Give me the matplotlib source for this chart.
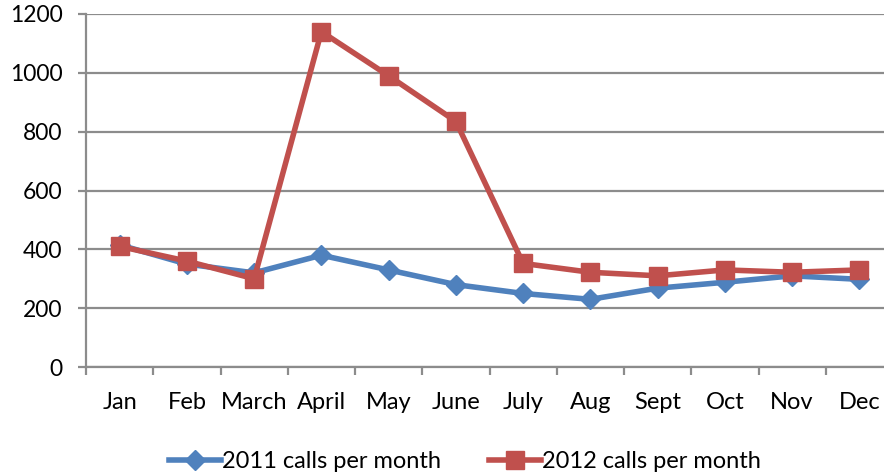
import matplotlib
matplotlib.use("Agg")
import matplotlib.pyplot as plt
import numpy as np

months = ["Jan", "Feb", "March", "April", "May", "June", "July", "Aug", "Sept", "Oct", "Nov", "Dec"]
calls_2011 = [415, 350, 320, 380, 330, 280, 250, 230, 268, 288, 310, 298]
calls_2012 = [410, 360, 300, 1140, 990, 835, 352, 322, 310, 330, 322, 330]
yticks = [0, 200, 400, 600, 800, 1000, 1200]

plt.rcParams['font.family'] = ['Lato', 'DejaVu Sans']

fig = plt.figure(figsize=(8.84, 4.76), dpi=100)
ax = fig.add_axes([86/884, 109/476, 807/884, 353/476])

x = np.arange(len(months))
blue = "#4F81BD"
red = "#C0504D"
ax.plot(x, calls_2011, color=blue, lw=4.0, marker="D", markersize=10.5, label="2011 calls per month", zorder=3)
ax.plot(x, calls_2012, color=red, lw=4.0, marker="s", markersize=13.5, label="2012 calls per month", zorder=4)

ax.set_xlim(-0.5, len(months) - 0.5)
ax.set_ylim(0, 1200)
ax.set_yticks(yticks)
ax.set_yticklabels([str(v) for v in yticks])
ax.set_xticks(x)
ax.set_xticklabels(months)
ax.set_xticks(np.arange(-0.5, len(months)), minor=True)

grid_c = "#8C8C8C"
ax.yaxis.grid(True, color=grid_c, lw=1.6)
ax.set_axisbelow(True)
for s in ["top", "right"]:
    ax.spines[s].set_visible(False)
for s in ["left", "bottom"]:
    ax.spines[s].set_color(grid_c)
    ax.spines[s].set_linewidth(1.6)

ax.tick_params(axis="x", which="major", length=0, pad=18, labelsize=17, colors="black")
ax.tick_params(axis="x", which="minor", length=6, width=1.6, color=grid_c, direction="out")
ax.tick_params(axis="y", length=6, width=1.6, color=grid_c, pad=11, labelsize=16.5, labelcolor="black")

fig.legend(loc="lower center", bbox_to_anchor=(0.526, -0.036), ncol=2, frameon=False,
           fontsize=17, handlelength=2.2, columnspacing=2.0, handletextpad=0.08)

fig.savefig("out.png", dpi=100)
